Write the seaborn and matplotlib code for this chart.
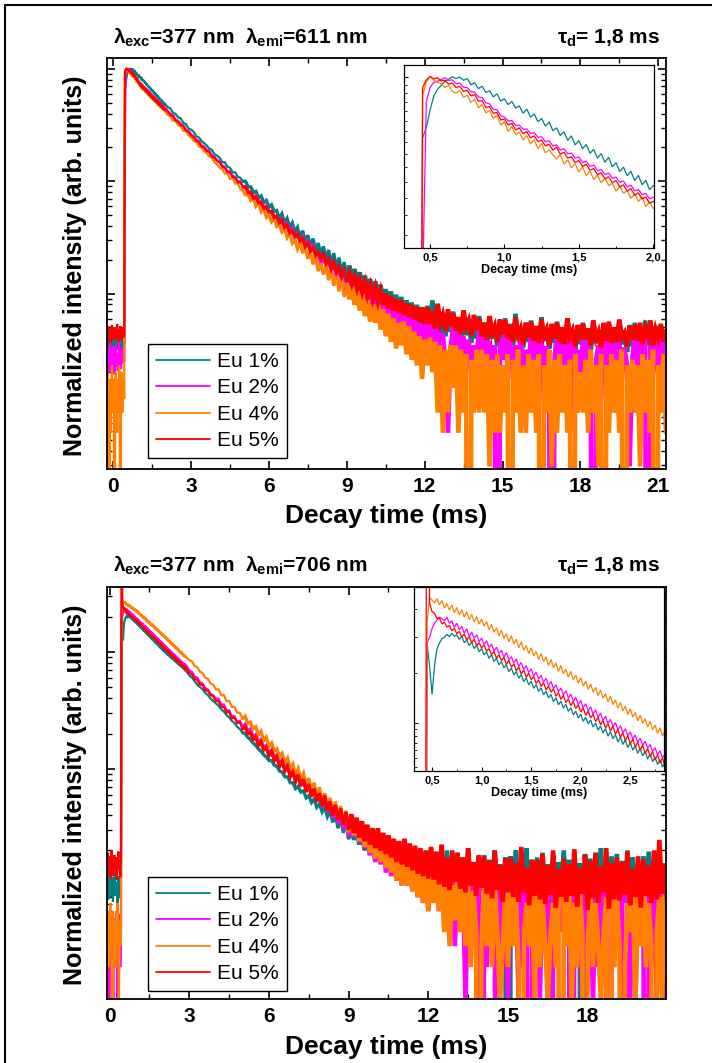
import numpy as np
import pandas as pd
import matplotlib
matplotlib.use("Agg")
import matplotlib.pyplot as plt
import seaborn as sns
from matplotlib.lines import Line2D
from matplotlib.ticker import LogLocator, NullFormatter, MultipleLocator, FuncFormatter

# ---------------------------------------------------------------------------
# DATA  (values = log10(normalized intensity) x 100 ; -999 = zero counts)
# ---------------------------------------------------------------------------
series_names = ["Eu 1%", "Eu 2%", "Eu 4%", "Eu 5%"]
series_colors = ["#008080", "#FF00FF", "#FF8000", "#FF0000"]

# sampling grids (ms): fine part (used also by the insets) + coarse part
p1_t = np.round(np.concatenate([-0.25 + 0.025 * np.arange(91), 2.1 + 0.1 * np.arange(193)]), 3)
p2_t = np.round(np.concatenate([-0.125 + 0.025 * np.arange(120), 2.9 + 0.1 * np.arange(182)]), 3)

# ---- panel 1 (emission 611 nm), fine part -0.25 .. 2.0 ms
p1f_eu1 = [-244,-238,-251,-241,-247,-236,-253,-243,-239,-249,-245,-234,-252,-240,-246,-237,-250,-242,-248,-235,-254,-244,-239,-251,-241,-247,-238,-245,
           -17.5,-14.5,-9.5,-5.5,-3.5,-2.4,-1.2,-0.6,0.1,-0.4,0.0,
           -0.9,-0.4,-2.2,-1.6,-3.3,-2.6,-4.4,-3.9,-5.7,-4.8,-6.9,-6.2,-7.9,-7.0,-8.9,-8.3,-10.4,-9.2,-11.5,-10.6,
           -12.8,-11.9,-14.1,-12.9,-15.4,-14.6,-16.8,-15.7,-18.2,-16.9,-19.5,-18.3,-20.6,-19.4,-21.9,-20.8,-23.3,-22.0,-24.5,-23.1,
           -25.8,-24.6,-27.2,-25.9,-28.4,-27.1,-29.8,-28.3,-31.0,-29.7,-32.4,-31.2]
p1f_eu2 = [-258,-249,-266,-252,-270,-244,-261,-255,-268,-247,-263,-251,-272,-257,-246,-265,-253,-269,-259,-242,-264,-250,-267,-256,-248,-262,-254,-260,
           -60,-7,-3,-1.5,-1.2,-0.7,
           -0.2,-0.9,-0.8,-1.9,-1.7,-2.9,-3.0,-4.2,-4.3,-5.7,-5.9,-7.4,-7.7,-9.2,-9.4,-11.1,-11.5,-12.6,-12.5,-13.9,
           -13.8,-15.0,-14.9,-16.2,-16.0,-17.3,-17.2,-18.6,-18.3,-19.8,-19.5,-21.0,-20.6,-22.1,-21.9,-23.3,-23.0,-24.6,-24.2,-25.7,
           -25.3,-26.9,-26.6,-28.0,-27.6,-29.1,-28.8,-30.3,-29.9,-31.6,-31.1,-32.7,-32.4,-33.8,-33.5,-35.0,-34.6]
p1f_eu4 = [-284,-270,-306,-294,-999,-276,-324,-284,-264,-294,-306,-276,-999,-284,-270,-294,-324,-276,-306,-264,-284,-999,-294,-270,-306,-284,-276,-294,
           -5,-1.5,0.3,-0.8,-1.5,
           -1.9,-3.0,-2.4,-4.1,-4.6,-3.9,-5.8,-5.2,-7.3,-6.4,-8.8,-8.0,-10.3,-9.6,-11.9,-11.0,-13.8,-12.9,-15.6,-14.2,
           -16.5,-15.9,-18.1,-16.8,-19.2,-18.0,-20.6,-19.1,-21.8,-20.9,-22.4,-23.6,-22.3,-25.0,-23.8,-26.1,-24.9,-27.3,-25.8,-28.4,
           -27.0,-29.5,-28.2,-30.4,-29.1,-31.2,-30.6,-32.8,-31.5,-33.4,-32.7,-34.9,-33.6,-35.8,-34.5,-37.3,-35.9,-37.8]
p1f_eu5 = [-233,-238,-229,-241,-236,-231,-244,-235,-228,-239,-234,-242,-230,-237,-233,-240,-227,-236,-243,-232,-238,-229,-235,-241,-234,-230,-239,-236,
           -3.0,-0.8,0.2,-0.5,-0.2,-1.1,-0.9,-2.0,-1.7,-3.0,-2.6,-4.1,-3.8,-5.4,-5.0,-6.9,-6.8,-8.7,-8.5,-10.4,
           -10.2,-12.3,-12.1,-13.8,-13.3,-15.2,-14.6,-16.3,-15.7,-17.5,-16.9,-18.6,-18.1,-19.8,-19.3,-21.0,-20.2,-22.2,-21.6,-23.3,
           -22.9,-24.6,-24.0,-25.7,-25.1,-26.8,-26.3,-28.1,-27.5,-29.3,-28.7,-30.4,-29.8,-31.6,-31.0,-32.8,-32.1,-34.0,-33.3,-35.1,
           -34.5,-36.3,-35.8]

# ---- panel 1, coarse part 2.1 .. 21.3 ms
p1t_eu1 = [-34,-35,-39,-40,-43,-44,-48,-49,-53,-54, -56,-60,-61,-64,-66,-68,-71,-72,-76,-77,
           -79,-83,-83,-87,-88,-92,-92,-96,-97,-100, -100,-105,-105,-110,-109,-115,-113,-119,-117,-123,
           -121,-127,-126,-133,-129,-137,-133,-141,-137,-145, -141,-150,-144,-154,-148,-158,-151,-162,-155,-166,
           -158,-170,-161,-175,-164,-178,-168,-182,-172,-186, -175,-190,-178,-194,-181,-197,-184,-200,-187,-203,
           -189,-206,-192,-210,-196,-214,-198,-216,-201,-219, -203,-220,-206,-223,-208,-226,-210,-228,-212,-230,
           -211,-229,-206,-233,-214,-236,-217,-238,-219,-234, -216,-239,-221,-242,-218,-237,-226,-244,-222,-240,
           -220,-243,-226,-246,-223,-240,-229,-247,-225,-241, -222,-244,-227,-249,-218,-241,-231,-248,-226,-243,
           -224,-246,-229,-250,-221,-242,-233,-249,-228,-244, -225,-247,-230,-251,-223,-243,-234,-250,-229,-245,
           -226,-248,-231,-252,-224,-244,-235,-251,-230,-246, -227,-249,-232,-250,-225,-245,-236,-252,-228,-247,
           -226,-248,-233,-251,-224,-246,-237,-250,-229,-245, -228,-249,-234]
p1t_eu2 = [-37,-40,-41,-45,-46,-49,-50,-54,-55,-58, -60,-63,-64,-68,-69,-72,-73,-77,-78,-81,
           -82,-86,-87,-91,-91,-95,-96,-100,-100,-105, -105,-109,-110,-114,-113,-118,-118,-123,-122,-128,
           -127,-132,-131,-137,-134,-141,-138,-146,-142,-151, -147,-154,-150,-160,-152,-163,-156,-168,-162,-174,
           -165,-177,-169,-182,-171,-186,-176,-191,-180,-196, -183,-198,-187,-203,-190,-208,-193,-212,-197,-216,
           -198,-215,-202,-220,-205,-224,-208,-228,-213,-232, -212,-231,-216,-236,-219,-240,-222,-244,-227,-246,
           -221,-246,-227,-252,-230,-259,-235,-264,-324,-248, -229,-259,-234,-270,-238,-264,-241,-276,-246,-259,
           -231,-264,-239,-284,-242,-270,-246,-999,-240,-259, -232,-270,-241,-276,-246,-294,-235,-264,-250,-276,
           -234,-264,-243,-306,-238,-270,-247,-284,-999,-259, -233,-270,-245,-276,-241,-324,-236,-264,-250,-284,
           -236,-276,-242,-270,-999,-259,-246,-294,-239,-264, -237,-270,-244,-306,-240,-276,-248,-264,-354,-259,
           -235,-264,-243,-284,-238,-999,-246,-270,-241,-276, -239,-294,-244]
p1t_eu4 = [-41,-42,-46,-46,-50,-51,-55,-55,-59,-61, -64,-65,-69,-70,-73,-75,-78,-79,-83,-85,
           -88,-89,-93,-93,-98,-97,-102,-102,-107,-108, -112,-112,-117,-115,-122,-119,-127,-124,-132,-130,
           -136,-133,-140,-138,-145,-142,-150,-146,-155,-152, -160,-154,-164,-158,-169,-162,-174,-166,-180,-173,
           -183,-174,-188,-178,-193,-183,-198,-186,-203,-192, -205,-193,-210,-198,-215,-201,-220,-206,-225,-210,
           -226,-209,-232,-214,-238,-218,-243,-222,-249,-226, -246,-225,-254,-229,-259,-234,-264,-238,-276,-241,
           -264,-239,-270,-243,-306,-246,-324,-250,-306,-246, -284,-246,-324,-250,-306,-254,-999,-259,-306,-250,
           -306,-250,-306,-254,-354,-259,-324,-254,-324,-264, -306,-254,-999,-259,-306,-250,-324,-264,-324,-254,
           -306,-259,-324,-254,-999,-264,-306,-250,-354,-259, -324,-254,-306,-264,-324,-259,-999,-254,-306,-270,
           -306,-259,-324,-250,-306,-264,-354,-254,-999,-264, -324,-254,-306,-259,-324,-250,-999,-264,-306,-259,
           -306,-264,-354,-254,-306,-259,-324,-250,-999,-264, -306,-254,-324]
p1t_eu5 = [-38,-41,-42,-46,-47,-50,-51,-55,-56,-59, -61,-64,-65,-69,-70,-73,-74,-78,-79,-82,
           -83,-87,-88,-92,-92,-96,-97,-101,-101,-105, -105,-110,-110,-115,-114,-119,-119,-124,-123,-127,
           -127,-132,-131,-137,-135,-141,-139,-146,-144,-149, -147,-153,-151,-158,-155,-162,-159,-166,-163,-169,
           -165,-173,-169,-178,-172,-181,-176,-185,-179,-188, -182,-191,-185,-195,-188,-198,-190,-201,-193,-204,
           -195,-207,-198,-210,-200,-213,-202,-215,-205,-217, -206,-219,-209,-221,-210,-223,-212,-225,-213,-227,
           -212,-227,-216,-231,-209,-226,-219,-233,-214,-229, -218,-233,-221,-236,-215,-230,-224,-238,-219,-232,
           -222,-238,-226,-241,-220,-235,-229,-243,-223,-236, -224,-240,-228,-243,-221,-237,-231,-245,-226,-239,
           -225,-242,-229,-244,-223,-238,-232,-246,-227,-240, -226,-243,-230,-245,-222,-239,-233,-247,-228,-241,
           -227,-241,-231,-246,-224,-240,-234,-248,-226,-242, -225,-244,-230,-243,-223,-239,-235,-247,-229,-241,
           -228,-242,-226,-245,-231,-238,-224,-246,-232,-240, -227,-243,-233]

# ---- panel 2 (emission 706 nm), fine part -0.125 .. 2.85 ms
p2f_eu1 = [-198,-207,-191,-212,-201,-195,-210,-186,-204,-199,-214,-193,-205,-189,-209,-197,-202,-216,-192,-206,-200,-211,-194,
           28,20,10,20,26,28,29.5,30,31,30.2,31.4,30.3,30.8,
           29.2,30.3,28.1,29.0,27.1,28.3,26.0,27.2,24.9,26.0,23.8,24.9,22.6,23.9,21.5,22.6,20.3,21.5,19.2,20.3,
           17.9,19.2,16.8,18.0,15.6,16.9,14.4,15.8,13.3,14.6,12.1,13.4,11.0,12.3,9.8,11.1,8.7,9.9,7.4,8.8,
           6.3,7.6,5.1,6.5,4.0,5.3,2.8,4.1,1.7,3.0,0.5,1.9,-0.4,1.0,-1.5,-0.1,-2.6,-1.1,-3.6,-2.0,
           -4.7,-3.1,-5.6,-4.1,-6.7,-5.0,-7.6,-6.1,-8.7,-7.0,-9.6,-8.1,-10.7,-9.0,-11.6,-10.1,-12.7,-11.0,-13.6,-12.1,
           -14.6,-13.0,-15.5,-14.0]
p2f_eu2 = [-222,-240,-252,-230,-270,-999,-235,-252,-226,-240,-999,-232,-252,-270,-228,-245,-252,-999,-236,-240,-225,-270,-248,
           28,30,33,35,36,37,36.5,
           35.8,37.0,34.9,35.8,33.4,34.9,32.6,33.8,31.4,32.9,30.3,31.8,29.6,30.9,28.4,29.7,27.5,28.8,26.4,27.6,
           25.1,26.5,24.3,25.4,23.0,24.6,22.1,23.2,20.9,22.4,19.8,21.1,18.7,20.0,17.6,18.9,16.3,17.8,15.4,16.7,
           14.2,15.6,13.1,14.5,12.0,13.3,10.9,12.2,9.8,11.2,8.7,10.1,7.5,9.0,6.4,7.8,5.3,6.7,4.2,5.6,
           3.1,4.5,2.0,3.4,0.9,2.3,-0.2,1.2,-1.3,0.1,-2.4,-1.0,-3.5,-2.1,-4.6,-3.2,-5.7,-4.3,-6.8,-5.4,
           -7.9,-6.5,-9.0,-7.6,-10.1,-8.7,-11.2,-9.8,-12.3,-10.9]
p2f_eu4 = [-230,-252,-222,-240,-270,-230,-215,-252,-240,-999,-222,-230,-252,-240,-270,-222,-230,-215,-252,-300,-240,-230,-252,
           35,44,43,
           42.0,43.5,41.3,42.9,40.2,41.8,39.5,41.3,38.6,40.4,37.8,39.6,37.1,38.9,36.2,38.0,35.4,37.2,34.6,36.4,
           33.8,35.5,32.6,34.5,31.7,33.3,30.5,32.4,29.6,31.2,28.4,30.5,27.6,29.3,26.3,28.4,25.5,27.1,24.3,26.3,
           23.4,25.0,22.2,24.3,21.5,23.1,20.1,22.2,19.3,21.0,18.0,20.1,17.2,18.8,16.0,18.0,15.1,16.7,13.9,15.8,
           12.9,14.6,11.7,13.6,10.8,12.4,9.5,11.5,8.6,10.2,7.3,9.3,6.4,8.0,5.1,7.1,4.2,5.8,2.9,4.9,
           2.0,3.6,0.7,2.7,-0.2,1.4,-1.5,0.5,-2.4,-0.8,-3.7,-1.7,-4.6,-2.9]
p2f_eu5 = [-178,-188,-172,-191,-181,-175,-194,-184,-170,-187,-179,-192,-174,-185,-189,-176,-195,-182,-171,-186,-180,-193,-177,
           150,42,39,
           38.4,36.5,36.8,34.6,35.3,33.5,34.2,32.2,33.1,31.2,32.0,30.1,31.1,29.0,30.2,28.1,29.3,27.0,28.1,26.2,
           27.3,25.1,26.0,23.9,25.0,22.6,23.9,21.8,23.0,20.4,21.9,19.5,20.6,18.2,19.6,17.1,18.5,16.0,17.4,15.1,
           16.2,13.8,15.0,12.7,14.1,11.5,12.9,10.7,11.9,9.3,10.6,8.2,9.6,7.1,8.4,6.0,7.5,5.0,6.3,3.8,
           5.2,2.6,4.1,1.7,3.0,0.4,1.9,-0.7,0.8,-1.8,-0.3,-2.9,-1.2,-4.0,-2.4,-5.1,-3.5,-6.3,-4.6,-7.4,
           -5.7,-8.5,-6.8,-9.6,-7.9,-10.8,-9.0,-11.9,-10.1,-13.0,-11.2,-14.1,-12.3,-15.2]

# ---- panel 2, coarse part 2.9 .. 21.0 ms
p2t_eu1 = [-17,-20,
           -22,-25,-28,-30,-32,-35,-37,-40,-42,-44, -46,-49,-51,-54,-56,-59,-61,-64,-66,-69,
           -70,-73,-75,-78,-80,-83,-85,-88,-90,-93, -93,-97,-98,-102,-103,-107,-107,-112,-112,-117,
           -115,-120,-119,-125,-123,-129,-126,-133,-130,-137, -133,-141,-136,-146,-139,-151,-142,-155,-145,-159,
           -147,-161,-150,-165,-152,-170,-155,-174,-158,-178, -158,-176,-161,-181,-163,-186,-165,-190,-168,-194,
           -166,-192,-169,-197,-171,-201,-173,-206,-176,-210, -168,-200,-172,-210,-175,-215,-170,-222,-178,-205,
           -172,-210,-176,-222,-168,-215,-180,-230,-175,-205, -174,-215,-178,-240,-170,-210,-182,-222,-176,-999,
           -175,-205,-170,-230,-180,-215,-168,-252,-178,-210, -176,-222,-172,-210,-182,-300,-174,-215,-180,-205,
           -170,-210,-178,-230,-175,-222,-181,-999,-173,-215, -177,-215,-172,-205,-168,-240,-180,-210,-175,-222,
           -173,-230,-179,-215,-170,-210,-176,-300,-182,-205, -175,-210,-171,-222,-178,-215,-169,-240,-181,-210]
p2t_eu2 = [-12,-16,
           -17,-21,-22,-26,-27,-31,-32,-36,-37,-40, -40,-45,-45,-50,-50,-55,-55,-60,-59,-64,
           -62,-68,-66,-73,-71,-78,-75,-82,-80,-87, -84,-91,-88,-97,-92,-101,-96,-106,-99,-110,
           -104,-114,-108,-119,-112,-124,-115,-128,-119,-133, -124,-137,-128,-142,-131,-147,-135,-152,-139,-157,
           -141,-158,-145,-163,-148,-168,-151,-174,-155,-180, -157,-182,-161,-189,-164,-192,-167,-196,-170,-200,
           -174,-200,-180,-205,-182,-210,-185,-215,-189,-222, -180,-210,-185,-222,-189,-230,-192,-240,-196,-252,
           -185,-222,-192,-300,-196,-240,-189,-252,-200,-999, -189,-270,-196,-252,-192,-999,-200,-270,-196,-300,
           -192,-240,-200,-300,-185,-270,-196,-999,-205,-252, -196,-300,-189,-252,-200,-999,-192,-270,-205,-240,
           -192,-252,-200,-999,-189,-270,-196,-300,-205,-240, -196,-300,-192,-270,-200,-252,-185,-999,-205,-270,
           -189,-252,-196,-999,-200,-300,-192,-270,-205,-240, -192,-999,-200,-270,-189,-300,-196,-252,-205,-999]
p2t_eu4 = [-5,-7,
           -8,-12,-13,-17,-18,-22,-23,-27,-28,-32, -32,-37,-37,-42,-42,-47,-47,-52,-52,-57,
           -55,-61,-60,-66,-64,-71,-68,-76,-73,-81, -78,-85,-83,-90,-87,-95,-91,-100,-96,-105,
           -100,-109,-104,-114,-108,-119,-112,-124,-116,-129, -121,-133,-125,-138,-128,-143,-132,-148,-136,-153,
           -140,-157,-144,-162,-147,-167,-151,-172,-155,-177, -157,-180,-161,-185,-165,-189,-168,-196,-172,-200,
           -174,-200,-180,-205,-182,-210,-185,-215,-189,-222, -185,-215,-189,-222,-192,-240,-196,-252,-200,-230,
           -192,-240,-200,-252,-196,-270,-205,-240,-999,-252, -196,-252,-205,-270,-200,-240,-300,-252,-205,-270,
           -200,-252,-210,-270,-999,-240,-215,-252,-200,-300, -205,-270,-210,-252,-300,-240,-215,-270,-205,-999,
           -210,-252,-200,-300,-215,-270,-205,-240,-999,-252, -205,-270,-215,-252,-300,-240,-210,-999,-205,-270,
           -210,-252,-999,-270,-215,-240,-205,-300,-210,-252, -205,-270,-215,-252,-999,-240,-210,-300,-205,-252]
p2t_eu5 = [-14,-18,
           -19,-23,-24,-28,-28,-33,-33,-37,-38,-42, -42,-47,-47,-52,-51,-57,-56,-61,-60,-66,
           -64,-70,-69,-75,-73,-80,-77,-84,-82,-89, -85,-93,-90,-98,-94,-102,-98,-107,-103,-111,
           -105,-115,-109,-120,-113,-124,-117,-128,-121,-132, -123,-136,-128,-140,-131,-144,-134,-148,-137,-151,
           -139,-155,-142,-159,-145,-162,-148,-165,-151,-168, -151,-170,-155,-173,-157,-176,-160,-180,-162,-182,
           -160,-184,-164,-187,-166,-190,-168,-192,-170,-194, -167,-195,-171,-199,-165,-201,-176,-204,-170,-197,
           -172,-203,-176,-206,-168,-200,-180,-209,-174,-202, -175,-207,-179,-211,-170,-204,-183,-214,-177,-206,
           -176,-210,-181,-214,-167,-206,-185,-217,-178,-209, -178,-212,-173,-216,-183,-208,-170,-219,-186,-210,
           -177,-214,-182,-209,-169,-218,-185,-207,-174,-221, -179,-211,-172,-215,-184,-206,-168,-220,-181,-212,
           -176,-213,-180,-208,-171,-217,-186,-210,-175,-219, -178,-209,-183,-215,-170,-212,-161,-207,-182,-216]

# text
title1_left = r"$\lambda_{exc}$=377 nm  $\lambda_{emi}$=611 nm"
title2_left = r"$\lambda_{exc}$=377 nm  $\lambda_{emi}$=706 nm"
title_right = r"$\tau_{d}$= 1,8 ms"
xlabel_txt = "Decay time (ms)"
ylabel_txt = "Normalized intensity (arb. units)"

# ---------------------------------------------------------------------------
sns.set_theme(style="ticks")
plt.rcParams.update({
    "font.family": ["Liberation Sans", "DejaVu Sans"],
    "font.weight": "bold",
    "axes.labelweight": "bold",
    "mathtext.fontset": "custom",
    "mathtext.rm": "Liberation Sans:bold",
    "mathtext.it": "Liberation Sans:bold",
    "mathtext.bf": "Liberation Sans:bold",
    "mathtext.sf": "Liberation Sans:bold",
    "text.color": "black",
    "axes.labelcolor": "black",
    "axes.edgecolor": "black",
    "xtick.color": "black",
    "ytick.color": "black",
    "lines.solid_joinstyle": "miter",
})

W, H = 712, 1063
fig = plt.figure(figsize=(W / 100, H / 100), dpi=100)
fig.patch.set_facecolor("white")


def fx(px):
    return px / W


def fy(py):
    return 1 - py / H


def to_intensity(v):
    a = np.asarray(v, dtype=float)
    return np.where(a < -900, 1e-12, 10.0 ** (a / 100.0))


def build(t, lists):
    frames = []
    for name, vals in zip(series_names, lists):
        if len(vals) != len(t):
            raise ValueError(f"{name}: {len(vals)} values vs {len(t)} times")
        frames.append(pd.DataFrame({"t": t, "I": to_intensity(vals), "series": name}))
    return pd.concat(frames, ignore_index=True)


df1 = build(p1_t, [p1f_eu1 + p1t_eu1, p1f_eu2 + p1t_eu2, p1f_eu4 + p1t_eu4, p1f_eu5 + p1t_eu5])
df2 = build(p2_t, [p2f_eu1 + p2t_eu1, p2f_eu2 + p2t_eu2, p2f_eu4 + p2t_eu4, p2f_eu5 + p2t_eu5])
palette = dict(zip(series_names, series_colors))


def draw(ax, df, lw):
    ax.set_yscale("log")
    sns.lineplot(data=df, x="t", y="I", hue="series", hue_order=series_names,
                 palette=palette, estimator=None, sort=False, lw=lw, ax=ax, legend=False)
    ax.set_yscale("log")
    ax.set_xlabel("")
    ax.set_ylabel("")


def draw_main(ax, df):
    # noisy tail drawn with heavier strokes so the dense counting noise reads as a band
    draw(ax, df[df["t"] <= 5.0], 1.6)
    draw(ax, df[(df["t"] >= 5.0) & (df["t"] <= 9.0)], 2.4)
    draw(ax, df[df["t"] >= 9.0], 3.3)


def style_main(ax, xlim, ylog, xticks):
    ax.set_xlim(*xlim)
    ax.set_ylim(10 ** ylog[0], 10 ** ylog[1])
    ax.xaxis.set_minor_locator(MultipleLocator(1.5))
    ax.set_xticks(xticks)
    ax.yaxis.set_major_locator(LogLocator(base=10, numticks=12))
    ax.yaxis.set_minor_locator(LogLocator(base=10, subs=np.arange(2, 10), numticks=12))
    ax.yaxis.set_major_formatter(NullFormatter())
    ax.yaxis.set_minor_formatter(NullFormatter())
    ax.tick_params(axis="both", which="both", direction="in", top=True, right=True)
    ax.tick_params(which="major", length=6, width=1.2)
    ax.tick_params(which="minor", length=3.5, width=1.0)
    ax.tick_params(axis="x", labelsize=15, pad=6)
    for s in ax.spines.values():
        s.set_linewidth(1.3)
        s.set_color("black")


def style_inset(ax, xlim, ylog, xmax_tick):
    ax.set_xlim(*xlim)
    ax.set_ylim(10 ** ylog[0], 10 ** ylog[1])
    ax.set_xticks(np.arange(0.5, xmax_tick + 0.01, 0.5))
    ax.xaxis.set_minor_locator(MultipleLocator(0.25))
    ax.xaxis.set_major_formatter(FuncFormatter(lambda v, p: f"{v:.1f}".replace(".", ",")))
    ax.yaxis.set_major_locator(LogLocator(base=10, numticks=12))
    ax.yaxis.set_minor_locator(LogLocator(base=10, subs=np.arange(1, 10, 0.5), numticks=12))
    ax.yaxis.set_major_formatter(NullFormatter())
    ax.yaxis.set_minor_formatter(NullFormatter())
    ax.tick_params(axis="both", which="both", direction="in", top=False, right=False)
    ax.tick_params(which="major", length=3, width=0.8)
    ax.tick_params(which="minor", length=1.8, width=0.6)
    ax.tick_params(axis="x", labelsize=8, pad=3)
    ax.set_xlabel(xlabel_txt, fontsize=9, fontweight="bold", labelpad=1)
    for s in ax.spines.values():
        s.set_linewidth(0.9)
        s.set_color("black")


def add_legend(ax, anchor):
    handles = [Line2D([0], [0], color=c, lw=1.3) for c in series_colors]
    leg = ax.legend(handles, series_names, loc="upper left", bbox_to_anchor=anchor,
                    borderaxespad=0, frameon=True, fancybox=False, framealpha=1,
                    edgecolor="black", prop={"weight": "normal", "size": 15},
                    handlelength=2.6, handletextpad=0.35, borderpad=0.38, labelspacing=0.36)
    leg.get_frame().set_linewidth(1.0)


# ---- panel 1
ax1 = fig.add_axes([fx(107), fy(469), fx(666) - fx(107), fy(58) - fy(469)])
draw_main(ax1, df1)
style_main(ax1, (-0.24, 21.3), (-3.562, 0.098), np.arange(0, 22, 3))
add_legend(ax1, (0.0733, 0.3040))

in1 = fig.add_axes([fx(404), fy(248), fx(654) - fx(404), fy(65) - fy(248)])
draw(in1, df1, 0.9)
style_inset(in1, (0.325, 2.005), (-0.492, 0.035), 2.0)

# ---- panel 2
ax2 = fig.add_axes([fx(107), fy(999), fx(666) - fx(107), fy(587) - fy(999)])
draw_main(ax2, df2)
style_main(ax2, (-0.1, 20.95), (-2.973, 0.557), np.arange(0, 19, 3))
add_legend(ax2, (0.0733, 0.2960))

in2 = fig.add_axes([fx(414), fy(771), fx(664) - fx(414), fy(587) - fy(771)])
draw(in2, df2, 0.9)
style_inset(in2, (0.318, 2.84), (-0.169, 0.476), 2.5)

# ---- texts
for ytop, tl in [(38, title1_left), (566, title2_left)]:
    fig.text(fx(113), fy(ytop), tl, fontsize=15, ha="left", va="center")
    fig.text(fx(660), fy(ytop), title_right, fontsize=15, ha="right", va="center")

for yc in [266, 795]:
    fig.text(fx(75), fy(yc), ylabel_txt, fontsize=18, rotation=90, ha="center", va="center")
for yc in [516, 1047]:
    fig.text(fx(386.5), fy(yc), xlabel_txt, fontsize=19, ha="center", va="center")

# outer frame (left and top edges)
fig.add_artist(Line2D([fx(5), fx(5)], [0, fy(5)], transform=fig.transFigure, color="black", lw=1.5))
fig.add_artist(Line2D([fx(5), 1], [fy(5), fy(5)], transform=fig.transFigure, color="black", lw=1.5))

fig.savefig("out.png", dpi=100, facecolor="white")
